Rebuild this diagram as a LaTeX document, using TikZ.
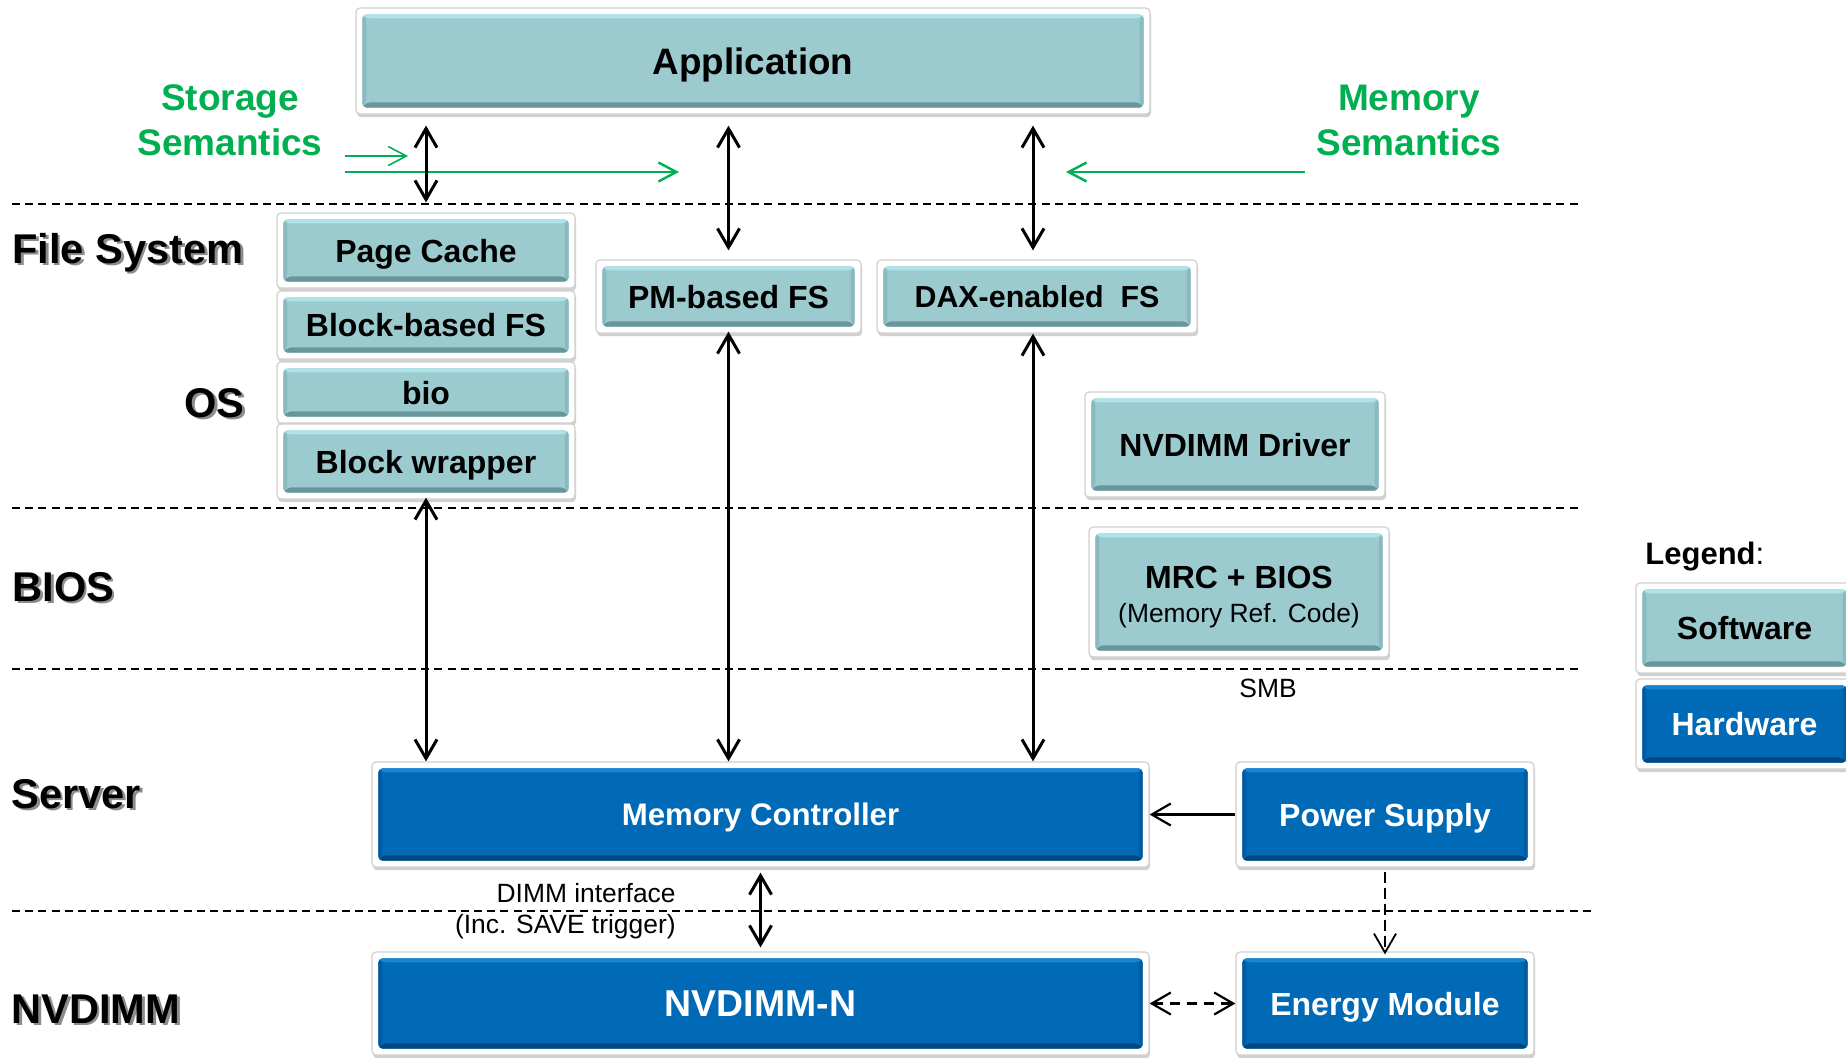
\documentclass[tikz,border=0pt]{standalone}
\usepackage{fontspec}
\setmainfont{Liberation Sans}
\usetikzlibrary{arrows.meta,calc,shadows}
\definecolor{tealM}{RGB}{156,203,207}
\definecolor{tealL}{RGB}{172,228,233}
\definecolor{tealD}{RGB}{104,150,155}
\definecolor{tealS}{RGB}{138,186,191}
\definecolor{blueM}{RGB}{0,106,182}
\definecolor{blueL}{RGB}{26,132,212}
\definecolor{blueD}{RGB}{0,70,128}
\definecolor{blueS}{RGB}{0,92,162}
\definecolor{sgreen}{RGB}{0,176,80}
\definecolor{frameC}{RGB}{208,208,208}
\newcommand\dgBox{\fontsize{16}{19}\selectfont\bfseries}
\newcommand\dgApp{\fontsize{18.4}{22}\selectfont\bfseries}
\newcommand\dgBig{\fontsize{18.7}{22}\selectfont\bfseries}
\newcommand\dgHead{\fontsize{20.8}{25}\selectfont\bfseries}
\newcommand\dgSmall{\fontsize{13.2}{15.5}\selectfont}
\newcommand\dgSem{\fontsize{18.5}{22.5}\selectfont\bfseries}
\newcommand\shtx[1]{\makebox[0pt][l]{\hspace*{1.3pt}\raisebox{-1.4pt}{\color{black!45}#1}}#1}
\tikzset{
  bevelbox/.style n args={4}{
    rectangle, rounded corners=2pt, draw=frameC, line width=0.6pt, fill=white,
    drop shadow={shadow xshift=0.5pt, shadow yshift=-1.6pt, opacity=0.18, fill=black},
    inner sep=0pt, align=center,
    path picture={
      \path (path picture bounding box.south west) ++(3.2pt,3.2pt) coordinate (iSW);
      \path (path picture bounding box.north east) ++(-3.2pt,-3.2pt) coordinate (iNE);
      \fill[#1] (iSW) rectangle (iNE);
      \fill[#2] (iSW |- iNE) -- (iNE) -- ($(iNE)+(-2pt,-2pt)$) -- ($(iSW |- iNE)+(2pt,-2pt)$) -- cycle;
      \fill[#3] (iSW) -- (iSW -| iNE) -- ($(iSW -| iNE)+(-2pt,2.6pt)$) -- ($(iSW)+(2pt,2.6pt)$) -- cycle;
      \fill[#4] (iSW) -- ($(iSW)+(2pt,2.6pt)$) -- ($(iSW |- iNE)+(2pt,-2pt)$) -- (iSW |- iNE) -- cycle;
      \fill[#4] (iSW -| iNE) -- ($(iSW -| iNE)+(-2pt,2.6pt)$) -- ($(iNE)+(-2pt,-2pt)$) -- (iNE) -- cycle;
    }},
  swbox/.style={bevelbox={tealM}{tealL}{tealD}{tealS}, font=\dgBox},
  hwbox/.style={bevelbox={blueM}{blueL}{blueD}{blueS}, text=white, font=\dgBox},
  capc/.style={text height=#1, text depth=0pt},
  capc/.default=11.5pt,
  head/.style={font=\dgHead, inner sep=0pt},
  layerline/.style={line width=0.75pt, dash pattern=on 4pt off 2.6pt},
  arr/.style={line width=1.5pt, >={Straight Barb[length=9.5pt,width=11pt]}},
  grn/.style={draw=sgreen, line width=1.2pt, ->, >={Straight Barb[length=9pt,width=9.5pt]}},
  sem/.style={font=\dgSem, text=sgreen, align=center, inner sep=0pt},
}
\begin{document}
\begin{tikzpicture}[x=0.5pt,y=-0.5pt]
\useasboundingbox (0,0) rectangle (1846,1057);
% layer separators
\draw[layerline] (12,204) -- (1578,204);
\draw[layerline] (12,508) -- (1578,508);
\draw[layerline] (12,669) -- (1578,669);
\draw[layerline] (12,911) -- (1595,911);

% boxes
\node[swbox,capc=13.2pt,minimum width=397pt,minimum height=53pt,font=\dgApp] (app) at (753,61) {Application};
\node[swbox,capc,minimum width=149pt,minimum height=37.5pt] (pc) at (426,250.5) {Page Cache};
\node[swbox,capc,minimum width=149pt,minimum height=34pt] (bfs) at (426,325) {Block-based FS};
\node[swbox,capc,minimum width=149pt,minimum height=30.5pt] (bio) at (426,392.5) {bio};
\node[swbox,capc,minimum width=149pt,minimum height=37.5pt] (bw) at (426,461.5) {Block wrapper};
\node[swbox,capc,minimum width=132.5pt,minimum height=36.5pt] (pm) at (728.5,296.5) {PM-based FS};
\node[swbox,capc=10.9pt,minimum width=160pt,minimum height=36.5pt,font=\fontsize{15.2}{18}\selectfont\bfseries] (dax) at (1037,296.5) {DAX-enabled\ \ FS};
\node[swbox,capc,minimum width=150pt,minimum height=52.5pt] (drv) at (1235,444.5) {NVDIMM Driver};
\node[swbox,minimum width=150pt,minimum height=65pt,font=\dgSmall] (mrc) at (1239,592) {{\dgBox\rule{0pt}{16.5pt}MRC + BIOS}\\[1.5pt](Memory Ref. Code)};
\node[hwbox,capc=11.2pt,minimum width=388.5pt,minimum height=52.5pt,font=\fontsize{15.6}{18}\selectfont\bfseries] (mc) at (760.5,814.5) {Memory Controller};
\node[hwbox,capc,minimum width=149pt,minimum height=52.5pt] (ps) at (1385,814.5) {Power Supply};
\node[hwbox,capc=13.4pt,minimum width=388.5pt,minimum height=51.5pt,font=\dgBig] (nv) at (760.5,1003.5) {NVDIMM-N};
\node[hwbox,capc,minimum width=149pt,minimum height=51.5pt] (em) at (1385,1003.5) {Energy Module};
\node[swbox,capc,minimum width=108.5pt,minimum height=45pt] (sw) at (1744.5,628) {Software};
\node[hwbox,capc,minimum width=108.5pt,minimum height=45pt] (hw) at (1744.5,724) {Hardware};

% layer labels
\node[head,anchor=base west] (hfs) at (12,263) {\shtx{File System}};
\node[head,anchor=base east] (hos) at (245,417) {\shtx{OS}};
\node[head,anchor=base west] (hbios) at (12,601) {\shtx{BIOS}};
\node[head,anchor=base west] (hsrv) at (11,808) {\shtx{Server}};
\node[head,anchor=base west] (hnv) at (11,1023) {\shtx{NVDIMM}};
\node[anchor=base west,inner sep=0pt,font=\fontsize{15.5}{18}\selectfont] (leg) at (1645,564) {\textbf{Legend}:};

% semantics
\node[sem] (stsem) at (230,120) {Storage\\Semantics};
\node[sem] (mmsem) at (1409,120) {Memory\\Semantics};
\coordinate (g1a) at (345,156);
\coordinate (g1b) at (408,156);
\coordinate (g2a) at (345,172);
\coordinate (g2b) at (679,172);
\coordinate (g3a) at (1305,172);
\coordinate (g3b) at (1066,172);
\draw[grn,line width=0.8pt] (g1a) -- (g1b);
\draw[grn] (g2a) -- (g2b);
\draw[grn] (g3a) -- (g3b);

% small labels
\node[anchor=east,align=right,inner sep=0pt,font=\dgSmall] (dimm) at (676,911) {DIMM interface\\(Inc. SAVE trigger)};
\node[inner sep=0pt,font=\dgSmall] (smb) at (1268,688) {SMB};

% connectors
\draw[arr,<->,shorten <=5.5pt,shorten >=5pt] (app.south -| pc.north) -- (pc.north);
\draw[arr,<->,shorten <=5.5pt,shorten >=4.5pt] (app.south -| pm.north) -- (pm.north);
\draw[arr,<->,shorten <=5.5pt,shorten >=4.5pt] (app.south -| 1033,0) -- ([xshift=-2pt]dax.north);
\draw[arr,<->,shorten <=-1pt] (bw.south) -- (bw.south |- mc.north);
\draw[arr,<->,shorten <=-1pt] (pm.south) -- (pm.south |- mc.north);
\draw[arr,<->] ([xshift=-2pt]dax.south) -- ([xshift=-2pt]dax.south |- mc.north);
\draw[arr,<->,shorten <=2.5pt,shorten >=2pt] (mc.south) -- (nv.north);
\draw[arr,->,line width=1.1pt] (ps.west) -- (mc.east);
\draw[arr,->,line width=0.9pt,dash pattern=on 5.5pt off 2.5pt,shorten <=2pt,shorten >=-1.5pt] (ps.south) -- (em.north);
\draw[arr,<->,line width=1.1pt,dash pattern=on 5pt off 3.5pt] (nv.east) -- (em.west);
\end{tikzpicture}
\end{document}
